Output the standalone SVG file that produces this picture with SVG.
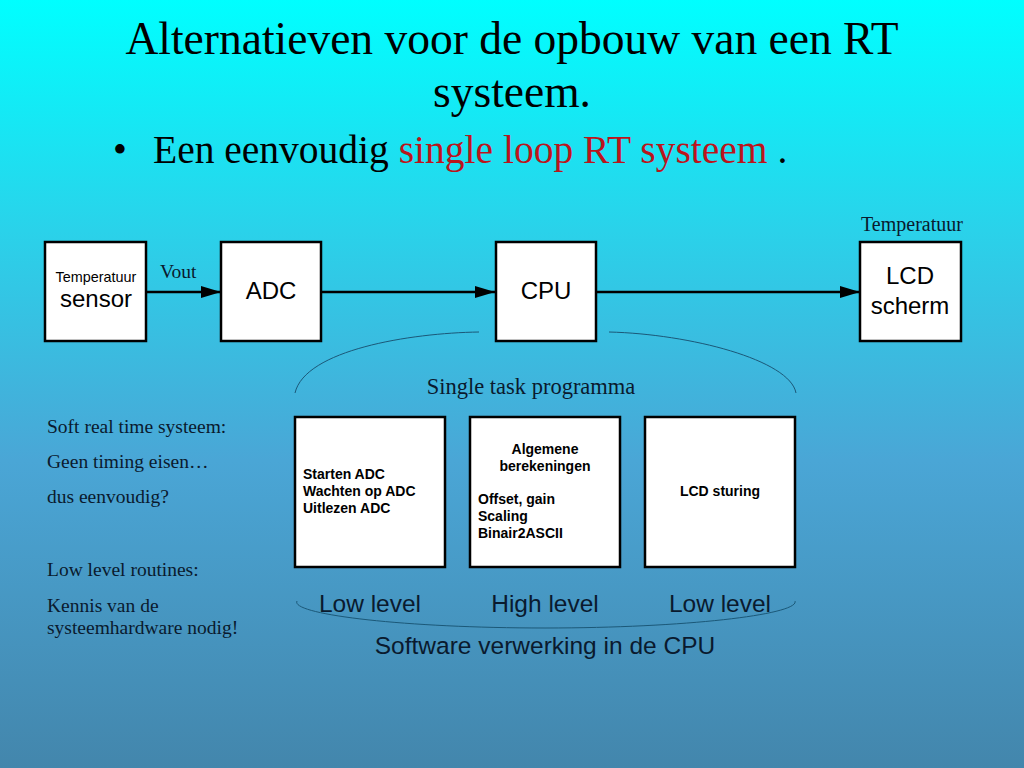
<svg xmlns="http://www.w3.org/2000/svg" width="1024" height="768" viewBox="0 0 1024 768">
<defs>
<linearGradient id="bg" x1="0" y1="0" x2="0" y2="1">
<stop offset="0" stop-color="#00ffff"/>
<stop offset="0.3" stop-color="#2ad2ea"/>
<stop offset="0.6" stop-color="#4aa6d6"/>
<stop offset="1" stop-color="#4386ac"/>
</linearGradient>
<marker id="arr" markerWidth="20" markerHeight="12" refX="20" refY="6" orient="auto" markerUnits="userSpaceOnUse">
<path d="M0,0 L20,6 L0,12 Z" fill="#000"/>
</marker>
<style>
.box{fill:#fff;stroke:#000;stroke-width:2.5}
.sans{font-family:"Liberation Sans",Arial,sans-serif;fill:#000}
.serif{font-family:"Liberation Serif","Times New Roman",serif;fill:#0a1a2e}
.b{font-weight:bold;font-size:14px}
.big{font-size:24px}
.conn{stroke:#000;stroke-width:2.5;fill:none}
.arc{stroke:#1b5878;stroke-width:1;fill:none}
</style>
</defs>
<rect width="1024" height="768" fill="url(#bg)"/>
<g id="title" font-family="'Liberation Serif','Times New Roman',serif" fill="#000" text-anchor="middle">
<text x="512" y="54" font-size="45.5">Alternatieven voor de opbouw van een RT</text>
<text x="512" y="107" font-size="45.5">systeem.</text>
</g>
<g id="bullet" font-family="'Liberation Serif','Times New Roman',serif" font-size="39.5" fill="#000">
<text x="113" y="163">•</text>
<text x="153" y="163">Een eenvoudig <tspan fill="#bb141c">single loop RT systeem</tspan> .</text>
</g>
<g id="connectors">
<line class="conn" x1="146" y1="292" x2="221" y2="292" marker-end="url(#arr)"/>
<line class="conn" x1="321" y1="292" x2="495" y2="292" marker-end="url(#arr)"/>
<line class="conn" x1="596" y1="292" x2="860" y2="292" marker-end="url(#arr)"/>
<path class="arc" d="M295,393 C305,350 410,333 479,332"/>
<path class="arc" d="M609,332 C690,334 790,360 796,393"/>
<path class="arc" d="M297,601 C290,614 400,628 545,628 C690,628 800,614 795,601"/>
</g>
<text class="serif" x="160" y="278" font-size="19.5">Vout</text>
<text class="serif" x="912" y="231" font-size="20" text-anchor="middle">Temperatuur</text>
<g id="sensor">
<rect class="box" x="45" y="242" width="101" height="99"/>
<text class="sans" x="96" y="282" font-size="14.4" text-anchor="middle">Temperatuur</text>
<text class="sans big" x="96" y="307" text-anchor="middle">sensor</text>
</g>
<g id="adc">
<rect class="box" x="221" y="242" width="100" height="99"/>
<text class="sans big" x="271" y="299" text-anchor="middle">ADC</text>
</g>
<g id="cpu">
<rect class="box" x="496" y="242" width="100" height="99"/>
<text class="sans big" x="546" y="299" text-anchor="middle">CPU</text>
</g>
<g id="lcd">
<rect class="box" x="860" y="242" width="101" height="99"/>
<text class="sans big" x="910" y="284" text-anchor="middle">LCD</text>
<text class="sans big" x="910" y="314" text-anchor="middle">scherm</text>
</g>
<text class="serif" x="531" y="394" font-size="22.5" text-anchor="middle">Single task programma</text>
<g id="lowlevel1">
<rect class="box" x="295" y="417" width="150" height="150" stroke-width="2"/>
<text class="sans b" x="303" y="479">Starten ADC</text>
<text class="sans b" x="303" y="496">Wachten op ADC</text>
<text class="sans b" x="303" y="513">Uitlezen ADC</text>
</g>
<g id="highlevel">
<rect class="box" x="470" y="417" width="150" height="150" stroke-width="2"/>
<text class="sans b" x="545" y="454" text-anchor="middle">Algemene</text>
<text class="sans b" x="545" y="471" text-anchor="middle">berekeningen</text>
<text class="sans b" x="478" y="504">Offset, gain</text>
<text class="sans b" x="478" y="521">Scaling</text>
<text class="sans b" x="478" y="538">Binair2ASCII</text>
</g>
<g id="lowlevel2">
<rect class="box" x="645" y="417" width="150" height="150" stroke-width="2"/>
<text class="sans b" x="720" y="496" text-anchor="middle">LCD sturing</text>
</g>
<g id="levels" font-family="'Liberation Sans',Arial,sans-serif" font-size="24.5" fill="#0a1a2e" text-anchor="middle">
<text x="370" y="612">Low level</text>
<text x="545" y="612">High level</text>
<text x="720" y="612">Low level</text>
<text x="545" y="654">Software verwerking in de CPU</text>
</g>
<g id="notes" font-family="'Liberation Serif','Times New Roman',serif" font-size="19.5" fill="#0a1a2e">
<text x="47" y="433">Soft real time systeem:</text>
<text x="47" y="468">Geen timing eisen…</text>
<text x="47" y="503">dus eenvoudig?</text>
<text x="47" y="576">Low level routines:</text>
<text x="47" y="612">Kennis van de</text>
<text x="47" y="634">systeemhardware nodig!</text>
</g>
</svg>
